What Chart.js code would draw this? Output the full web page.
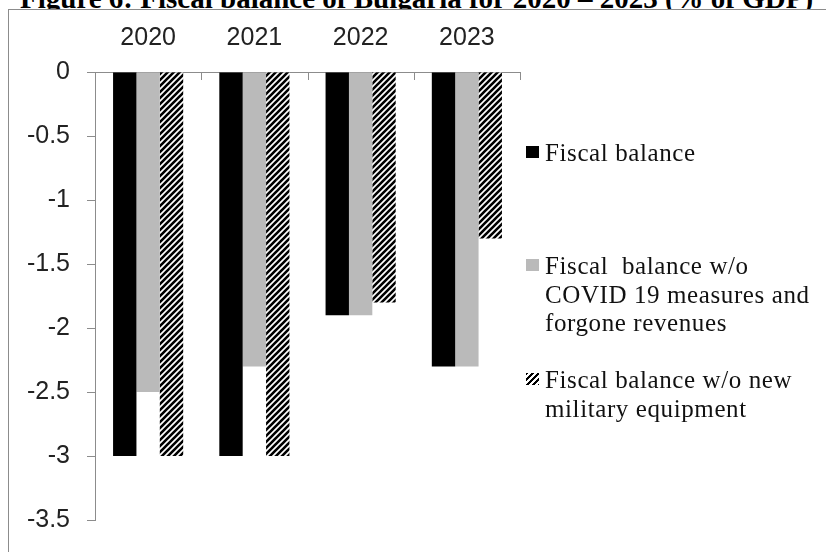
<!DOCTYPE html>
<html>
<head>
<meta charset="utf-8">
<script src="https://cdn.jsdelivr.net/npm/chart.js@4/dist/chart.umd.min.js"></script>
<style>
  html, body { margin: 0; padding: 0; background: #fff; width: 826px; height: 552px; overflow: hidden; position: relative; }
  #title {
    position: absolute; left: 20px; top: -16px; z-index: 0;
    font: bold 29px "Liberation Serif", "Times New Roman", serif; line-height: 29px;
    white-space: nowrap; color: #000;
  }
  #frame {
    position: absolute; left: 8px; top: 9px; width: 900px; height: 600px;
    border: 1px solid #8c8c8c; background: #fff; z-index: 1;
  }
  #wrap { position: absolute; left: 0; top: 0; width: 826px; height: 552px; z-index: 2; }
  .legend-item { position: absolute; left: 526px; font: 25px "Liberation Serif", "Times New Roman", serif; line-height: 28.5px; letter-spacing: 0.6px; color: #111; }
  .legend-item .box { position: absolute; left: 0; width: 13px; height: 12px; }
  .legend-item .txt { position: absolute; left: 19px; white-space: pre; }
</style>
</head>
<body>
<div id="title">Figure 6: Fiscal balance of Bulgaria for 2020 – 2023 (% of GDP)</div>
<div id="frame"></div>
<div id="wrap"><canvas id="chart" width="826" height="552"></canvas></div>
<div id="legend"></div>

<script>
// data
const years = ['2020', '2021', '2022', '2023'];
const fiscalBalance = [-3.0, -3.0, -1.9, -2.3];
const noCovid = [-2.5, -2.3, -1.9, -2.3];
const noMilitary = [-3.0, -3.0, -1.8, -1.3];
const yTicks = [0, -0.5, -1, -1.5, -2, -2.5, -3, -3.5];

const seriesNames = [
    'Fiscal balance',
    'Fiscal  balance w/o\nCOVID 19 measures and\nforgone revenues',
    'Fiscal balance w/o new\nmilitary equipment'
];

const axisGrey = '#8c8c8c';

// wide upward diagonal hatch
function makeHatch() {
    const s = 6;
    const c = document.createElement('canvas');
    c.width = s; c.height = s;
    const g = c.getContext('2d');
    g.fillStyle = '#fff';
    g.fillRect(0, 0, s, s);
    g.strokeStyle = '#000';
    g.lineWidth = 2.6;
    g.beginPath();
    g.moveTo(0, s); g.lineTo(s, 0);
    g.moveTo(-1, 1); g.lineTo(1, -1);
    g.moveTo(s - 1, s + 1); g.lineTo(s + 1, s - 1);
    g.stroke();
    return g.createPattern(c, 'repeat');
}

const ctx = document.getElementById('chart').getContext('2d');
const hatch = makeHatch();

// x-axis tick marks point down into the plot, like the original
const innerTicks = {
    id: 'innerTicks',
    afterDraw(chart) {
        const xs = chart.scales.x;
        const c = chart.ctx;
        c.save();
        c.strokeStyle = axisGrey;
        c.lineWidth = 1;
        for (let i = 1; i <= years.length; i++) {
            const x = Math.round(xs.getPixelForValue(i - 0.5)) + 0.5;
            c.beginPath();
            c.moveTo(x, xs.bottom);
            c.lineTo(x, xs.bottom + 8);
            c.stroke();
        }
        c.restore();
    }
};

new Chart(ctx, {
    type: 'bar',
    data: {
        labels: years,
        datasets: [
            { label: seriesNames[0], data: fiscalBalance, backgroundColor: '#000000' },
            { label: seriesNames[1], data: noCovid, backgroundColor: '#bababa' },
            { label: seriesNames[2], data: noMilitary, backgroundColor: hatch }
        ]
    },
    options: {
        responsive: false,
        animation: false,
        layout: { padding: { left: 0, top: 0, right: 306, bottom: 26 } },
        datasets: { bar: { categoryPercentage: 0.66, barPercentage: 1.0, borderWidth: 0 } },
        plugins: { legend: { display: false }, tooltip: { enabled: false } },
        scales: {
            x: {
                position: 'top',
                afterFit: s => { s.height = 72; },
                grid: { display: false, drawTicks: false },
                border: { display: true, color: axisGrey, width: 1 },
                ticks: { color: '#222', padding: 19, font: { family: 'Liberation Sans', size: 25 } }
            },
            y: {
                min: -3.5, max: 0,
                afterFit: s => { s.width = 95; },
                afterBuildTicks: s => { s.ticks = yTicks.map(v => ({ value: v })); },
                grid: { drawOnChartArea: false, drawTicks: true, tickLength: 8, color: axisGrey },
                border: { display: true, color: axisGrey, width: 1 },
                ticks: {
                    color: '#222', padding: 17, font: { family: 'Liberation Sans', size: 25 },
                    callback: v => String(v)
                }
            }
        }
    },
    plugins: [innerTicks]
});

// legend, written by hand so the long names can wrap like the original
const legendTops = [139, 252, 366];
const markers = ['#000', '#bababa', 'repeating-linear-gradient(135deg, #000 0 2px, #fff 2px 4.2px)'];
document.getElementById('legend').innerHTML = seriesNames.map((name, i) => `
    <div class="legend-item" style="top:${legendTops[i]}px; z-index:3">
        <div class="box" style="top:7px; background:${markers[i]}"></div>
        <div class="txt">${name}</div>
    </div>
`).join('');
</script>
</body>
</html>
